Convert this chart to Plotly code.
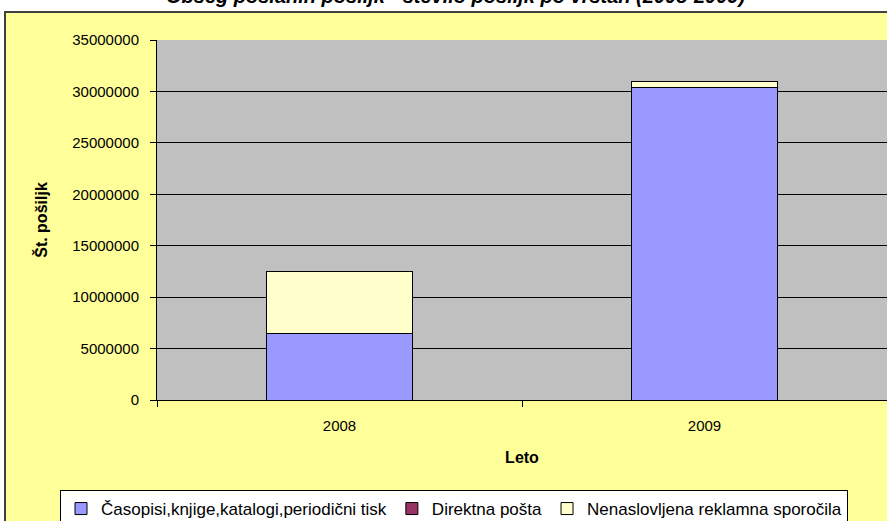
import plotly.graph_objects as go

years = ["2008", "2009"]
casopisi = [6420000, 30430000]
direktna = [50000, 0]
nenaslovljena = [5980000, 490000]

series_names = ["Časopisi,knjige,katalogi,periodični tisk", "Direktna pošta", "Nenaslovljena reklamna sporočila"]
series_colors = ["#9999FF", "#993366", "#FFFFCC"]
series_values = [casopisi, direktna, nenaslovljena]

title_text = "Obseg poslanih pošiljk - število pošiljk po vrstah (2008-2009)"

W, H = 887, 521
L, R, T, B = 157, 0, 40, 121
pw, ph = W - L - R, H - T - B

def px_x(x):
    return (x - L) / pw

def px_y(y):
    return (H - B - y) / ph

fig = go.Figure()
for name, color, vals in zip(series_names, series_colors, series_values):
    fig.add_trace(go.Bar(
        x=years, y=vals, name=name,
        marker=dict(color=color, line=dict(color="#000000", width=1)),
    ))

fig.update_layout(
    width=W, height=H,
    barmode="stack", bargap=0.6,
    margin=dict(l=L, r=R, t=T, b=B, pad=0, autoexpand=False),
    paper_bgcolor="#FFFFFF",
    plot_bgcolor="rgba(0,0,0,0)",
    font=dict(family="Liberation Sans, Arial, sans-serif", size=15, color="#000000"),
    showlegend=True,
    legend=dict(
        orientation="h",
        x=px_x(60), xanchor="left", y=px_y(490), yanchor="top",
        bgcolor="#FFFFFF", bordercolor="#000000", borderwidth=1,
        font=dict(size=17), traceorder="normal", itemwidth=30,
        tracegroupgap=0,
    ),
    shapes=[
        dict(type="rect", xref="paper", yref="paper", layer="below",
             x0=px_x(5), x1=px_x(900), y0=px_y(540), y1=px_y(12),
             fillcolor="#FFFF99", line=dict(color="#404040", width=2)),
        dict(type="rect", xref="paper", yref="paper", layer="below",
             x0=0, x1=1, y0=0, y1=1, fillcolor="#C0C0C0", line=dict(width=0)),
    ],
    annotations=[
        dict(text="<b><i>" + title_text + "</i></b>", xref="paper", yref="paper",
             x=px_x(455), y=px_y(9), xanchor="center", yanchor="bottom",
             showarrow=False, font=dict(size=20, color="#000000")),
    ],
)

fig.update_xaxes(
    type="category", tickson="boundaries", ticks="outside", ticklen=6,
    tickcolor="#000000", showline=True, linecolor="#000000", linewidth=1,
    showgrid=False, tickfont=dict(size=15), ticklabelstandoff=12,
    title=dict(text="<b>Leto</b>", font=dict(size=16), standoff=18),
)
fig.update_yaxes(
    range=[0, 35000000], dtick=5000000, tickformat="d", ticks="outside", ticklen=6,
    tickcolor="#000000", showline=True, linecolor="#000000", linewidth=1,
    showgrid=True, gridcolor="#000000", gridwidth=1, zeroline=False,
    tickfont=dict(size=15), ticklabelstandoff=8,
    title=dict(text="<b>Št. pošiljk</b>", font=dict(size=16), standoff=20),
)

fig.write_html("out.html", config={"displayModeBar": False},
               post_script="document.body.style.margin='0';")
